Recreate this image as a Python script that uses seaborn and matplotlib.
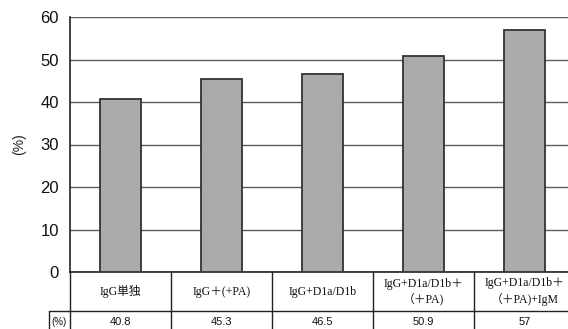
import matplotlib
matplotlib.use("Agg")
import matplotlib.pyplot as plt
import matplotlib.transforms as mtransforms
import seaborn as sns
import pandas as pd

categories = ["IgG単独", "IgG＋(+PA)", "IgG+D1a/D1b",
              "IgG+D1a/D1b＋\n（＋PA)", "IgG+D1a/D1b＋\n（＋PA)+IgM"]
values = [40.8, 45.3, 46.5, 50.9, 57]
value_labels = ["40.8", "45.3", "46.5", "50.9", "57"]
yticks = [0, 10, 20, 30, 40, 50, 60]

sns.set_theme(style="white")
plt.rcParams["font.family"] = ["Liberation Sans", "Noto Sans CJK JP"]

df = pd.DataFrame({"group": categories, "pct": values})

fig = plt.figure(figsize=(5.68, 3.29), dpi=100)
W, H = 568, 329
left, right, top, bottom = 70, 575, 17, 272
ax = fig.add_axes([left / W, 1 - bottom / H, (right - left) / W, (bottom - top) / H])

sns.barplot(data=df, x="group", y="pct", ax=ax, color="#ababab",
            width=0.4, edgecolor="#333333", linewidth=1.3, zorder=3)

ax.set_ylim(0, 60)
ax.set_xlim(-0.5, len(categories) - 0.5)
ax.set_yticks(yticks)
ax.set_yticklabels([str(t) for t in yticks], fontsize=12, color="#111111")
ax.tick_params(axis="y", length=0, pad=8)
ax.set_xticks([])
ax.set_xlabel("")
ax.set_ylabel("(%)", fontsize=10, color="#222222", labelpad=10)
ax.yaxis.grid(True, color="#5a5a5a", linewidth=1.0, zorder=0)
for side in ["top", "right"]:
    ax.spines[side].set_visible(False)
ax.spines["left"].set_color("#222222")
ax.spines["left"].set_linewidth(1.2)
ax.spines["bottom"].set_color("#222222")
ax.spines["bottom"].set_linewidth(1.2)

# table under the axis: category row and value row
trans = mtransforms.blended_transform_factory(ax.transData, ax.transAxes)
ppx = 1.0 / (bottom - top)
row1 = -39 * ppx
row2 = -70 * ppx
line_kw = dict(color="#222222", linewidth=1.0, clip_on=False, transform=trans)
n = len(categories)
for i in range(n + 1):
    ax.plot([i - 0.5, i - 0.5], [0, row2], **line_kw)
ax.plot([-0.5 - 0.21, n - 0.5], [row1, row1], **line_kw)
ax.plot([-0.5 - 0.21, -0.5 - 0.21], [row1, row2], **line_kw)

label_fonts = ["Liberation Serif", "Noto Sans CJK JP"]
for i, (cat, lab) in enumerate(zip(categories, value_labels)):
    ax.text(i, row1 / 2, cat, ha="center", va="center", fontsize=8.5,
            family=label_fonts, color="#111111", transform=trans,
            linespacing=1.3)
    ax.text(i, row1 - 11 * ppx, lab, ha="center", va="center", fontsize=8,
            color="#111111", transform=trans)
ax.text(-0.5 - 0.105, row1 - 11 * ppx, "(%)", ha="center", va="center",
        fontsize=7, color="#111111", transform=trans)

fig.savefig("out.png", dpi=100)
